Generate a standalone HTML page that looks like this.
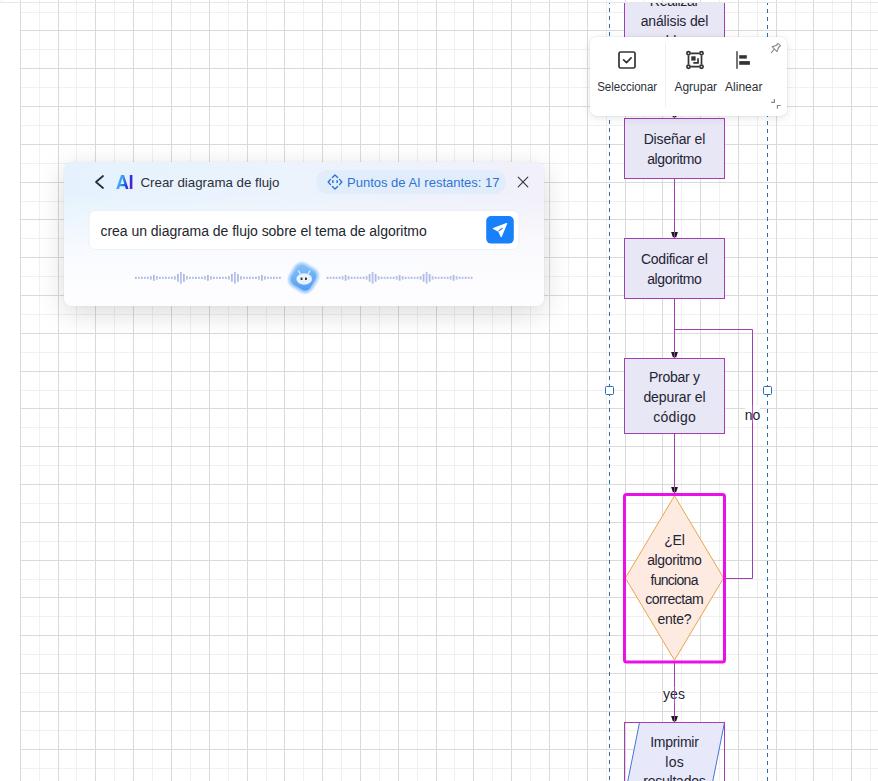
<!DOCTYPE html>
<html><head><meta charset="utf-8">
<style>
html,body{margin:0;padding:0;width:878px;height:781px;overflow:hidden;background:#fff;font-family:"Liberation Sans",sans-serif;}
svg{position:absolute;left:0;top:0;}
.dlg{position:absolute;left:64px;top:162px;width:480px;height:144px;border-radius:8px;
 background:linear-gradient(to bottom,rgba(253,253,255,0) 0%,rgba(253,253,255,0) 22%,rgba(253,253,255,0.75) 60%,#fdfdff 88%),linear-gradient(to right,#e5f2fd 0%,#ebf3fd 45%,#f1f0fb 100%);
 box-shadow:0 7px 28px rgba(0,0,0,0.15),0 0 3px rgba(0,0,0,0.05);}
.pop{position:absolute;left:590px;top:37px;width:197px;height:78.5px;border-radius:7px;background:#fff;
 box-shadow:0 2px 10px rgba(0,0,0,0.10),0 0 0 1px rgba(0,0,0,0.03);}
</style></head><body>
<svg width="878" height="781" viewBox="0 0 878 781">
 <g shape-rendering="crispEdges">
 <path d="M1.5 0V781M39.5 0V781M76.5 0V781M114.5 0V781M152.5 0V781M190.5 0V781M228.5 0V781M266.5 0V781M303.5 0V781M341.5 0V781M379.5 0V781M417.5 0V781M454.5 0V781M492.5 0V781M530.5 0V781M568.5 0V781M606.5 0V781M643.5 0V781M681.5 0V781M719.5 0V781M757.5 0V781M795.5 0V781M832.5 0V781M870.5 0V781M0 12.5H878M0 49.5H878M0 87.5H878M0 125.5H878M0 163.5H878M0 201.5H878M0 238.5H878M0 276.5H878M0 314.5H878M0 352.5H878M0 390.5H878M0 427.5H878M0 465.5H878M0 503.5H878M0 541.5H878M0 579.5H878M0 616.5H878M0 654.5H878M0 692.5H878M0 730.5H878M0 768.5H878" stroke="rgba(0,0,0,0.058)" stroke-width="1" fill="none"/>
 <path d="M20.5 0V781M58.5 0V781M95.5 0V781M133.5 0V781M171.5 0V781M209.5 0V781M247.5 0V781M284.5 0V781M322.5 0V781M360.5 0V781M398.5 0V781M436.5 0V781M473.5 0V781M511.5 0V781M549.5 0V781M587.5 0V781M625.5 0V781M662.5 0V781M700.5 0V781M738.5 0V781M776.5 0V781M813.5 0V781M851.5 0V781M0 30.5H878M0 68.5H878M0 106.5H878M0 144.5H878M0 182.5H878M0 219.5H878M0 257.5H878M0 295.5H878M0 333.5H878M0 371.5H878M0 408.5H878M0 446.5H878M0 484.5H878M0 522.5H878M0 560.5H878M0 597.5H878M0 635.5H878M0 673.5H878M0 711.5H878M0 749.5H878" stroke="#dadada" stroke-width="1" fill="none"/>
 <rect x="0" y="3" width="20" height="778" fill="#fff"/>
 <path d="M0 2.5H878" stroke="#e8e8e8" stroke-width="1"/>
 <path d="M609.5 3V781" stroke="#2f6eab" stroke-width="1" stroke-dasharray="4 4" stroke-dashoffset="3"/>
 <path d="M767.5 3V781" stroke="#2f6eab" stroke-width="1" stroke-dasharray="4 4" stroke-dashoffset="2"/>
 </g>
 <defs><clipPath id="ctop"><rect x="0" y="3" width="878" height="778"/></clipPath></defs>
 <g clip-path="url(#ctop)">
 <g fill="#e8e7f5" stroke="#a43cb4" stroke-width="1">
  <rect x="624.5" y="-17.5" width="100" height="75"/>
  <rect x="624.5" y="118.5" width="100" height="60"/>
  <rect x="624.5" y="238.5" width="100" height="60"/>
  <rect x="624.5" y="358.5" width="100" height="75"/>
 </g>

 <g fill="#1a1a1a"><path d="M671.1 111.9L677.9 111.9L676.2 117.3L672.9 117.3Z"/><path d="M671.1 231.9L677.9 231.9L676.2 237.3L672.9 237.3Z"/><path d="M671.1 351.9L677.9 351.9L676.2 357.3L672.9 357.3Z"/><path d="M671.1 486.9L677.9 486.9L676.2 492.3L672.9 492.3Z"/><path d="M671.1 715.9L677.9 715.9L676.2 721.3L672.9 721.3Z"/></g>
 <g stroke="#a43cb4" stroke-width="1" fill="none">
  <path d="M674.5 57.5V118M674.5 178.5V238M674.5 298.5V358M674.5 433.5V493M674.5 663V722"/>
  <path d="M724 578.5H752.5V329.5H674.5"/>
 </g>
 <path d="M674.5 495.8L723.6 578L674.5 660.2L625.4 578Z" fill="#fdebe1" stroke="#eaa44a" stroke-width="1"/>
 <rect x="624.5" y="494.5" width="100" height="167.5" rx="2" fill="none" stroke="#e812e8" stroke-width="3"/>
 <path d="M639.5 722.5H724.5L709.5 797.5H624.5Z" fill="#e7e9fa" stroke="#4a74da" stroke-width="1"/>
 <rect x="624.5" y="722.5" width="100" height="75" fill="none" stroke="#a43cb4" stroke-width="1"/>
 <rect x="745" y="405" width="15" height="18" fill="#fff"/>
 <rect x="663" y="687.5" width="22" height="15.5" fill="#fff"/>
 <rect x="605.5" y="386.5" width="8" height="8" rx="1" fill="#fff" stroke="#2b6bb8"/>
 <rect x="763.5" y="386.5" width="8" height="8" rx="1" fill="#fff" stroke="#2b6bb8"/>
 <g font-family="Liberation Sans" font-size="14" fill="#1e2434" text-anchor="middle">
  <text x="674.5" y="5.7" textLength="49.3" lengthAdjust="spacing">Realizar</text>
  <text x="674.5" y="25.7" textLength="67.67" lengthAdjust="spacing">análisis del</text>
  <text x="674.5" y="45.7" textLength="56" lengthAdjust="spacing">problema</text>
  <text x="674.5" y="143.6" textLength="61.73" lengthAdjust="spacing">Diseñar el</text>
  <text x="674.5" y="163.5" textLength="54.59" lengthAdjust="spacing">algoritmo</text>
  <text x="674.5" y="263.8" textLength="66.93" lengthAdjust="spacing">Codificar el</text>
  <text x="674.5" y="283.7" textLength="54.59" lengthAdjust="spacing">algoritmo</text>
  <text x="674.5" y="382" textLength="50.92" lengthAdjust="spacing">Probar y</text>
  <text x="674.5" y="401.8" textLength="62.25" lengthAdjust="spacing">depurar el</text>
  <text x="674.5" y="421.5" textLength="42.47" lengthAdjust="spacing">código</text>
  <text x="674.5" y="545" textLength="20.7" lengthAdjust="spacing">¿El</text>
  <text x="674.5" y="564.85" textLength="54.59" lengthAdjust="spacing">algoritmo</text>
  <text x="674.5" y="584.6" textLength="47.94" lengthAdjust="spacing">funciona</text>
  <text x="674.5" y="604.3" textLength="58.43" lengthAdjust="spacing">correctam</text>
  <text x="674.5" y="624.1" textLength="34.05" lengthAdjust="spacing">ente?</text>
  <text x="674.5" y="746.7" textLength="48.75" lengthAdjust="spacing">Imprimir</text>
  <text x="674.5" y="766.5" textLength="18.51" lengthAdjust="spacing">los</text>
  <text x="674.5" y="786.3" textLength="62.6" lengthAdjust="spacing">resultados</text>
  <text x="752.5" y="419.7">no</text>
  <text x="674" y="698.7">yes</text>
 </g>
 <path d="M674.5 687.5V703M752.5 405V423" stroke="#a43cb4" stroke-width="1" opacity="0.85"/>
 </g>
</svg>

<div class="dlg"></div>
<div class="pop"></div>

<svg width="878" height="781" viewBox="0 0 878 781">
 <defs>
  <linearGradient id="aig" x1="116" y1="182" x2="134" y2="188" gradientUnits="userSpaceOnUse">
   <stop offset="0" stop-color="#4cc6fb"/><stop offset="0.3" stop-color="#3394f4"/><stop offset="0.55" stop-color="#2446e2"/><stop offset="0.7" stop-color="#2230dc"/><stop offset="0.86" stop-color="#6a16ca"/><stop offset="1" stop-color="#b010c0"/>
  </linearGradient>
  <linearGradient id="rbg" x1="292" y1="264" x2="316" y2="292" gradientUnits="userSpaceOnUse">
   <stop offset="0" stop-color="#8cc8fc"/><stop offset="1" stop-color="#4893f0"/>
  </linearGradient>
  <filter id="blr" x="-20%" y="-20%" width="140%" height="140%"><feGaussianBlur stdDeviation="0.7"/></filter><filter id="blr2" x="-30%" y="-30%" width="160%" height="160%"><feGaussianBlur stdDeviation="1.3"/></filter><filter id="blr3" x="-30%" y="-30%" width="160%" height="160%"><feGaussianBlur stdDeviation="0.35"/></filter>
 </defs>
 <!-- dialog header -->
 <path d="M103 176L96 182L103 188" fill="none" stroke="#2a2e36" stroke-width="1.8" stroke-linecap="round" stroke-linejoin="round"/>
 <g fill="url(#aig)">
  <path fill-rule="evenodd" d="M121 175H124L128.5 189H125.8L124.9 186.2H119.9L119 189H116.2ZM120.5 184.1H124.3L122.4 178.1Z"/>
  <rect x="129.8" y="175" width="2.6" height="14"/>
 </g>
 <text x="140.5" y="186.9" font-family="Liberation Sans" font-size="13.3" fill="#2b2f38">Crear diagrama de flujo</text>
 <rect x="316" y="170" width="190" height="24" rx="12" fill="#e2edfc"/>
 <g fill="none" stroke="#2a72d8" stroke-width="1.4" stroke-linecap="round" stroke-linejoin="round">
  <path d="M332.4 177.4L335 174.9L337.6 177.4M332.4 186.5L335 189L337.6 186.5M330.5 179.4L328.2 182L330.5 184.6M339.5 179.4L341.8 182L339.5 184.6"/>
 </g>
 <rect x="332.1" y="180.2" width="1.5" height="2.8" fill="#2a72d8"/>
 <rect x="336.4" y="180.2" width="1.5" height="2.8" fill="#2a72d8"/>
 <text x="347" y="186.7" font-family="Liberation Sans" font-size="13" fill="#2f74d4">Puntos de AI restantes: 17</text>
 <path d="M518.2 177.2L527.8 186.8M527.8 177.2L518.2 186.8" stroke="#34383f" stroke-width="1.15" stroke-linecap="round"/>
 <!-- input -->
 <rect x="89" y="210.5" width="430" height="39" rx="6" fill="#fff" stroke="#edf0f4" stroke-width="1"/>
 <text x="100.5" y="235.8" font-family="Liberation Sans" font-size="14" fill="#23262e" textLength="326.2" lengthAdjust="spacing">crea un diagrama de flujo sobre el tema de algoritmo</text>
 <rect x="486.2" y="216" width="27.6" height="27.6" rx="5" fill="#1880fa"/>
 <path d="M506.6 223.6L493.4 228.5L498.7 231.1L501.2 236.5Z" fill="#fff" stroke="#fff" stroke-width="1.3" stroke-linejoin="round"/>
 <path d="M498.9 230.9L502.2 228.3" stroke="#1880fa" stroke-width="1.1" stroke-linecap="round"/>
 <!-- wave -->
 <rect x="135.0" y="276.75" width="1.8" height="2.2" fill="#b3bbd9"/><rect x="138.0" y="276.75" width="1.8" height="2.2" fill="#b4c0f4"/><rect x="141.0" y="276.75" width="1.8" height="2.2" fill="#b3bbd9"/><rect x="144.0" y="276.75" width="1.8" height="2.2" fill="#b4c0f4"/><rect x="147.0" y="276.75" width="1.8" height="2.2" fill="#b3bbd9"/><rect x="150.0" y="276.05" width="1.8" height="3.6" fill="#b4c0f4"/><rect x="153.0" y="274.95" width="1.8" height="5.8" fill="#b3bbd9"/><rect x="156.0" y="276.05" width="1.8" height="3.6" fill="#b4c0f4"/><rect x="159.0" y="276.75" width="1.8" height="2.2" fill="#b3bbd9"/><rect x="162.0" y="276.75" width="1.8" height="2.2" fill="#b4c0f4"/><rect x="165.0" y="276.75" width="1.8" height="2.2" fill="#b3bbd9"/><rect x="168.0" y="276.75" width="1.8" height="2.2" fill="#b4c0f4"/><rect x="171.0" y="276.75" width="1.8" height="2.2" fill="#b3bbd9"/><rect x="174.0" y="276.05" width="1.8" height="3.6" fill="#b4c0f4"/><rect x="177.0" y="274.00" width="1.8" height="7.7" fill="#b3bbd9"/><rect x="180.0" y="271.95" width="1.8" height="11.8" fill="#b4c0f4"/><rect x="183.0" y="274.00" width="1.8" height="7.7" fill="#b3bbd9"/><rect x="186.0" y="276.05" width="1.8" height="3.6" fill="#b4c0f4"/><rect x="189.0" y="276.75" width="1.8" height="2.2" fill="#b3bbd9"/><rect x="192.0" y="276.75" width="1.8" height="2.2" fill="#b4c0f4"/><rect x="195.0" y="276.75" width="1.8" height="2.2" fill="#b3bbd9"/><rect x="198.0" y="276.75" width="1.8" height="2.2" fill="#b4c0f4"/><rect x="201.0" y="276.75" width="1.8" height="2.2" fill="#b3bbd9"/><rect x="204.0" y="276.05" width="1.8" height="3.6" fill="#b4c0f4"/><rect x="207.0" y="274.95" width="1.8" height="5.8" fill="#b3bbd9"/><rect x="210.0" y="276.05" width="1.8" height="3.6" fill="#b4c0f4"/><rect x="213.0" y="276.75" width="1.8" height="2.2" fill="#b3bbd9"/><rect x="216.0" y="276.75" width="1.8" height="2.2" fill="#b4c0f4"/><rect x="219.0" y="276.75" width="1.8" height="2.2" fill="#b3bbd9"/><rect x="222.0" y="276.75" width="1.8" height="2.2" fill="#b4c0f4"/><rect x="225.0" y="276.75" width="1.8" height="2.2" fill="#b3bbd9"/><rect x="228.0" y="276.05" width="1.8" height="3.6" fill="#b4c0f4"/><rect x="231.0" y="274.00" width="1.8" height="7.7" fill="#b3bbd9"/><rect x="234.0" y="271.95" width="1.8" height="11.8" fill="#b4c0f4"/><rect x="237.0" y="274.00" width="1.8" height="7.7" fill="#b3bbd9"/><rect x="240.0" y="276.05" width="1.8" height="3.6" fill="#b4c0f4"/><rect x="243.0" y="276.75" width="1.8" height="2.2" fill="#b3bbd9"/><rect x="246.0" y="276.75" width="1.8" height="2.2" fill="#b4c0f4"/><rect x="249.0" y="276.75" width="1.8" height="2.2" fill="#b3bbd9"/><rect x="252.0" y="276.75" width="1.8" height="2.2" fill="#b4c0f4"/><rect x="255.0" y="276.75" width="1.8" height="2.2" fill="#b3bbd9"/><rect x="258.0" y="276.05" width="1.8" height="3.6" fill="#b4c0f4"/><rect x="261.0" y="274.95" width="1.8" height="5.8" fill="#b3bbd9"/><rect x="264.0" y="276.05" width="1.8" height="3.6" fill="#b4c0f4"/><rect x="267.0" y="276.75" width="1.8" height="2.2" fill="#b3bbd9"/><rect x="270.0" y="276.75" width="1.8" height="2.2" fill="#b4c0f4"/><rect x="273.0" y="276.75" width="1.8" height="2.2" fill="#b3bbd9"/><rect x="276.0" y="276.75" width="1.8" height="2.2" fill="#b4c0f4"/><rect x="279.0" y="276.75" width="1.8" height="2.2" fill="#b3bbd9"/><rect x="326.7" y="276.75" width="1.8" height="2.2" fill="#b3bbd9"/><rect x="329.7" y="276.75" width="1.8" height="2.2" fill="#b4c0f4"/><rect x="332.7" y="276.75" width="1.8" height="2.2" fill="#b3bbd9"/><rect x="335.7" y="276.75" width="1.8" height="2.2" fill="#b4c0f4"/><rect x="338.7" y="276.75" width="1.8" height="2.2" fill="#b3bbd9"/><rect x="341.7" y="276.05" width="1.8" height="3.6" fill="#b4c0f4"/><rect x="344.7" y="274.95" width="1.8" height="5.8" fill="#b3bbd9"/><rect x="347.7" y="276.05" width="1.8" height="3.6" fill="#b4c0f4"/><rect x="350.7" y="276.75" width="1.8" height="2.2" fill="#b3bbd9"/><rect x="353.7" y="276.75" width="1.8" height="2.2" fill="#b4c0f4"/><rect x="356.7" y="276.75" width="1.8" height="2.2" fill="#b3bbd9"/><rect x="359.7" y="276.75" width="1.8" height="2.2" fill="#b4c0f4"/><rect x="362.7" y="276.75" width="1.8" height="2.2" fill="#b3bbd9"/><rect x="365.7" y="276.05" width="1.8" height="3.6" fill="#b4c0f4"/><rect x="368.7" y="274.00" width="1.8" height="7.7" fill="#b3bbd9"/><rect x="371.7" y="271.95" width="1.8" height="11.8" fill="#b4c0f4"/><rect x="374.7" y="274.00" width="1.8" height="7.7" fill="#b3bbd9"/><rect x="377.7" y="276.05" width="1.8" height="3.6" fill="#b4c0f4"/><rect x="380.7" y="276.75" width="1.8" height="2.2" fill="#b3bbd9"/><rect x="383.7" y="276.75" width="1.8" height="2.2" fill="#b4c0f4"/><rect x="386.7" y="276.75" width="1.8" height="2.2" fill="#b3bbd9"/><rect x="389.7" y="276.75" width="1.8" height="2.2" fill="#b4c0f4"/><rect x="392.7" y="276.75" width="1.8" height="2.2" fill="#b3bbd9"/><rect x="395.7" y="276.05" width="1.8" height="3.6" fill="#b4c0f4"/><rect x="398.7" y="274.95" width="1.8" height="5.8" fill="#b3bbd9"/><rect x="401.7" y="276.05" width="1.8" height="3.6" fill="#b4c0f4"/><rect x="404.7" y="276.75" width="1.8" height="2.2" fill="#b3bbd9"/><rect x="407.7" y="276.75" width="1.8" height="2.2" fill="#b4c0f4"/><rect x="410.7" y="276.75" width="1.8" height="2.2" fill="#b3bbd9"/><rect x="413.7" y="276.75" width="1.8" height="2.2" fill="#b4c0f4"/><rect x="416.7" y="276.75" width="1.8" height="2.2" fill="#b3bbd9"/><rect x="419.7" y="276.05" width="1.8" height="3.6" fill="#b4c0f4"/><rect x="422.7" y="274.00" width="1.8" height="7.7" fill="#b3bbd9"/><rect x="425.7" y="271.95" width="1.8" height="11.8" fill="#b4c0f4"/><rect x="428.7" y="274.00" width="1.8" height="7.7" fill="#b3bbd9"/><rect x="431.7" y="276.05" width="1.8" height="3.6" fill="#b4c0f4"/><rect x="434.7" y="276.75" width="1.8" height="2.2" fill="#b3bbd9"/><rect x="437.7" y="276.75" width="1.8" height="2.2" fill="#b4c0f4"/><rect x="440.7" y="276.75" width="1.8" height="2.2" fill="#b3bbd9"/><rect x="443.7" y="276.75" width="1.8" height="2.2" fill="#b4c0f4"/><rect x="446.7" y="276.75" width="1.8" height="2.2" fill="#b3bbd9"/><rect x="449.7" y="276.05" width="1.8" height="3.6" fill="#b4c0f4"/><rect x="452.7" y="274.95" width="1.8" height="5.8" fill="#b3bbd9"/><rect x="455.7" y="276.05" width="1.8" height="3.6" fill="#b4c0f4"/><rect x="458.7" y="276.75" width="1.8" height="2.2" fill="#b3bbd9"/><rect x="461.7" y="276.75" width="1.8" height="2.2" fill="#b4c0f4"/><rect x="464.7" y="276.75" width="1.8" height="2.2" fill="#b3bbd9"/><rect x="467.7" y="276.75" width="1.8" height="2.2" fill="#b4c0f4"/><rect x="470.7" y="276.75" width="1.8" height="2.2" fill="#b3bbd9"/>
 <!-- robot -->
 <g filter="url(#blr2)">
  <rect x="290" y="264.3" width="27" height="27" rx="8.5" fill="#9ccbfb" transform="rotate(31 303.5 277.8)"/>
 </g>
 <g filter="url(#blr)">
  <rect x="292.5" y="266.8" width="22" height="22" rx="6.5" fill="url(#rbg)" transform="rotate(31 303.5 277.8)"/>
 </g>
 <path d="M300.2 273.6L298.4 270.8M308.2 273.6L310 270.8" stroke="#e4effe" stroke-width="1.2" stroke-linecap="round"/>
 <ellipse cx="304.2" cy="279" rx="7.8" ry="5.8" fill="#e8f1fe" filter="url(#blr3)"/>
 <rect x="300.6" y="277.6" width="1.9" height="2.3" rx="0.5" fill="#333"/>
 <rect x="305" y="277.6" width="1.9" height="2.3" rx="0.5" fill="#333"/>
 <!-- popup -->
 <path d="M665.5 43V107" stroke="#eeeeee" stroke-width="1"/>
 <rect x="619" y="52" width="16" height="16" rx="1.6" fill="none" stroke="#333" stroke-width="1.7"/>
 <path d="M623.6 59.8L626.5 62.6L631.1 57.9" fill="none" stroke="#333" stroke-width="1.7" stroke-linecap="round" stroke-linejoin="round"/>
 <g fill="none" stroke="#333" stroke-width="1.7">
  <path d="M690.6 53.3H699.4M690.6 66.7H699.4M688.5 55.4V64.6M701.5 55.4V64.6"/>
  <circle cx="688.5" cy="53.3" r="1.6"/><circle cx="701.5" cy="53.3" r="1.6"/><circle cx="688.5" cy="66.7" r="1.6"/><circle cx="701.5" cy="66.7" r="1.6"/>
  <path d="M698 58.3V62.9H693.3"/>
 </g>
 <rect x="691.3" y="56.3" width="4.3" height="4.3" fill="#333"/>
 <rect x="736.2" y="51.2" width="1.6" height="17.6" fill="#555"/>
 <rect x="739.2" y="55.2" width="7.6" height="3.4" fill="#333"/>
 <rect x="739.2" y="61.1" width="10.7" height="3.7" fill="#333"/>
 <path d="M772.1 46.7L776.5 45.4L777.8 43.4L780.6 45.9L778.5 47.5L777 51.6ZM773.9 49.5L771.4 52.6" fill="none" stroke="#8a8a8a" stroke-width="1.1" stroke-linejoin="round" stroke-linecap="round"/>
 <path d="M774.4 99.1V102.4H771.1M777.4 108.7V105.5H780.8" fill="none" stroke="#8a8a8a" stroke-width="1.2"/>
 <g font-family="Liberation Sans" font-size="12" fill="#2b2f38">
  <text x="597.2" y="91" textLength="60" lengthAdjust="spacingAndGlyphs">Seleccionar</text>
  <text x="674.4" y="91">Agrupar</text>
  <text x="725.1" y="91">Alinear</text>
 </g>
</svg>
</body></html>
